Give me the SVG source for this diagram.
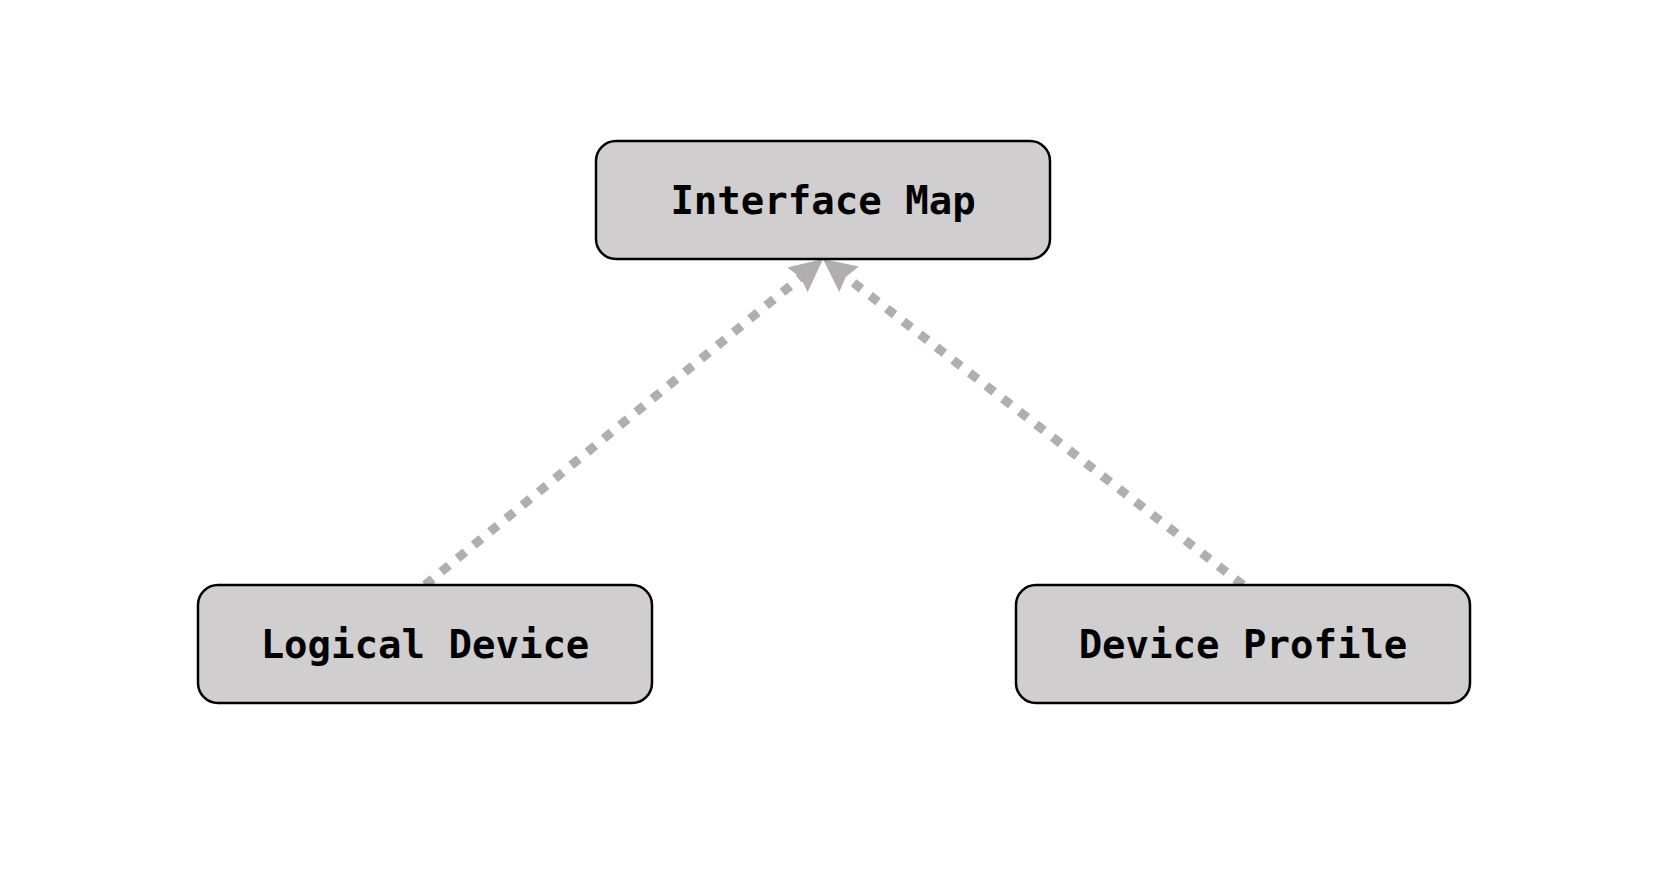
<svg xmlns="http://www.w3.org/2000/svg" width="1670" height="870" viewBox="0 0 1670 870">
  <style>
    .box { fill: #d0cecf; stroke: #000000; stroke-width: 2.5; }
    .lbl { font-family: "DejaVu Sans Mono", "Liberation Mono", monospace; font-weight: bold; font-size: 39px; fill: #000000; text-anchor: middle; }
    .conn { fill: none; stroke: #b0aeaf; stroke-width: 9; stroke-dasharray: 10 11; }
  </style>
  <defs>
    <marker id="arrow" markerUnits="userSpaceOnUse" markerWidth="40" markerHeight="40" viewBox="0 -20 40 40" refX="4" refY="0" orient="auto">
      <path d="M33,0 L0,-16 L4,0 L0,16 Z" fill="#b0aeaf"/>
    </marker>
  </defs>
  <rect width="1670" height="870" fill="#ffffff"/>
  <g id="connectors">
    <path class="conn" d="M425,585 L800.6,277.4" marker-end="url(#arrow)"/>
    <path class="conn" d="M1243,585 L845.9,276.8" marker-end="url(#arrow)"/>
  </g>
  <g id="interface-map">
    <rect class="box" x="596" y="141" width="454" height="118" rx="20" ry="20"/>
    <text class="lbl" x="823" y="214">Interface Map</text>
  </g>
  <g id="logical-device">
    <rect class="box" x="198" y="585" width="454" height="118" rx="20" ry="20"/>
    <text class="lbl" x="425" y="658">Logical Device</text>
  </g>
  <g id="device-profile">
    <rect class="box" x="1016" y="585" width="454" height="118" rx="20" ry="20"/>
    <text class="lbl" x="1243" y="658">Device Profile</text>
  </g>
</svg>
